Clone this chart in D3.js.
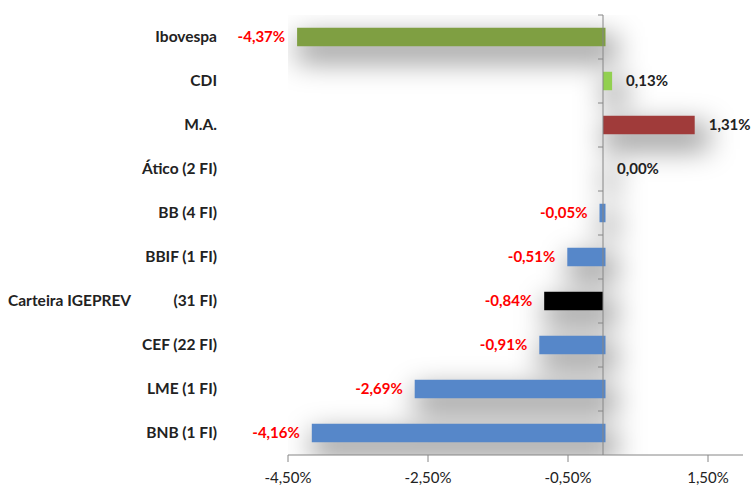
<!DOCTYPE html>
<html>
<head>
<meta charset="utf-8">
<script src="https://cdn.jsdelivr.net/npm/d3@7"></script>
<style>
  body { margin: 0; background: #fff; }
  text { font-family: Lato, "Open Sans", sans-serif; }
</style>
</head>
<body>
<svg id="chart" width="756" height="487"></svg>
<script>
// categories top to bottom, a tab splits labels that Excel spaced out
const categories = ['Ibovespa', 'CDI', 'M.A.', 'Ático (2 FI)', 'BB (4 FI)', 'BBIF (1 FI)',
  'Carteira IGEPREV\t(31 FI)', 'CEF (22 FI)', 'LME (1 FI)', 'BNB (1 FI)'];
const values = [-4.37, 0.13, 1.31, 0.00, -0.05, -0.51, -0.84, -0.91, -2.69, -4.16];
const barColors = ['#7f9f42', '#92d050', '#a03b3a', '#5687c9', '#5687c9', '#5687c9',
  '#000000', '#5687c9', '#5687c9', '#5687c9'];
const tickValues = [-4.5, -2.5, -0.5, 1.5];

const svg = d3.select('#chart');
const margin = { top: 15, right: 13, bottom: 32, left: 288 };
const width = +svg.attr('width');
const height = +svg.attr('height');

const x = d3.scaleLinear()
    .domain([-4.5, 2.0])
    .range([margin.left, width - margin.right]);

const y = d3.scaleBand()
    .domain(categories)
    .range([margin.top, height - margin.bottom])
    .paddingInner(0.58)
    .paddingOuter(0.29);

const fmt = v => d3.format('.2f')(v).replace('.', ',').replace('\u2212', '-') + '%';

// soft shadow behind the bars
const defs = svg.append('defs');
defs.append('filter')
    .attr('id', 'shadow')
    .attr('x', '-50%').attr('y', '-300%')
    .attr('width', '200%').attr('height', '700%')
  .append('feGaussianBlur')
    .attr('stdDeviation', 14);
defs.append('clipPath').attr('id', 'plot')
  .append('rect')
    .attr('x', x(-4.5)).attr('y', margin.top)
    .attr('width', x(2) - x(-4.5)).attr('height', height - margin.bottom - margin.top);

svg.append('g')
    .attr('clip-path', 'url(#plot)')
  .append('g')
    .attr('filter', 'url(#shadow)')
  .selectAll('rect')
  .data(values)
  .join('rect')
    .attr('x', d => Math.min(x(d), x(0)))
    .attr('y', (d, i) => y(categories[i]) + 8)
    .attr('width', d => Math.abs(x(d) - x(0)) + 14)
    .attr('height', y.bandwidth() + 8)
    .attr('fill', 'rgba(0,0,0,0.4)');

// bars
svg.append('g')
  .selectAll('rect')
  .data(values)
  .join('rect')
    .attr('x', d => Math.min(x(d), x(0)))
    .attr('y', (d, i) => y(categories[i]))
    .attr('width', d => Math.abs(x(d) - x(0)) + (d < 0 && d !== -0.84 ? 2.5 : 0))
    .attr('height', y.bandwidth())
    .attr('fill', (d, i) => barColors[i]);

// vertical category axis at zero
const yAxis = svg.append('g')
    .attr('transform', `translate(${x(0)},0)`);
yAxis.append('line')
    .attr('y1', margin.top).attr('y2', height - margin.bottom)
    .attr('stroke', '#868686');
const bounds = categories.map(c => y(c) - y.step() * y.paddingInner() / 2);
yAxis.selectAll('.tk')
  .data(bounds)
  .join('line')
    .attr('x1', -5).attr('x2', 0)
    .attr('y1', d => d).attr('y2', d => d)
    .attr('stroke', '#868686');

// bottom value axis
const xAxis = svg.append('g')
    .attr('transform', `translate(0,${height - margin.bottom})`);
xAxis.append('line')
    .attr('x1', x(-4.5)).attr('x2', x(2))
    .attr('stroke', '#868686');
xAxis.selectAll('.tk')
  .data(tickValues)
  .join('line')
    .attr('x1', d => x(d)).attr('x2', d => x(d))
    .attr('y1', 0).attr('y2', 7)
    .attr('stroke', '#868686');
xAxis.selectAll('text')
  .data(tickValues)
  .join('text')
    .attr('x', d => x(d))
    .attr('y', 28)
    .attr('text-anchor', 'middle')
    .attr('font-size', 15)
    .attr('fill', '#222')
    .text(d => fmt(d));

// category labels
const labels = svg.append('g');
categories.forEach(c => {
  const cy = y(c) + y.bandwidth() / 2 + 5;
  const parts = c.split('\t');
  if (parts.length > 1) {
    labels.append('text')
        .attr('x', 8).attr('y', cy)
        .attr('font-size', 15.5).attr('font-weight', 'bold').attr('fill', '#222')
        .text(parts[0]);
  }
  labels.append('text')
      .attr('x', 217).attr('y', cy)
      .attr('text-anchor', 'end')
      .attr('font-size', 15.5).attr('font-weight', 'bold').attr('fill', '#222')
      .text(parts[parts.length - 1]);
});

// value labels
svg.append('g')
  .selectAll('text')
  .data(values)
  .join('text')
    .attr('x', d => d < 0 ? x(d) - 12 : x(d) + 14)
    .attr('y', (d, i) => y(categories[i]) + y.bandwidth() / 2 + 5)
    .attr('text-anchor', d => d < 0 ? 'end' : 'start')
    .attr('font-size', 15)
    .attr('font-weight', 'bold')
    .attr('fill', d => d < 0 ? '#ff0000' : '#222')
    .text(d => fmt(d));
</script>
</body>
</html>
